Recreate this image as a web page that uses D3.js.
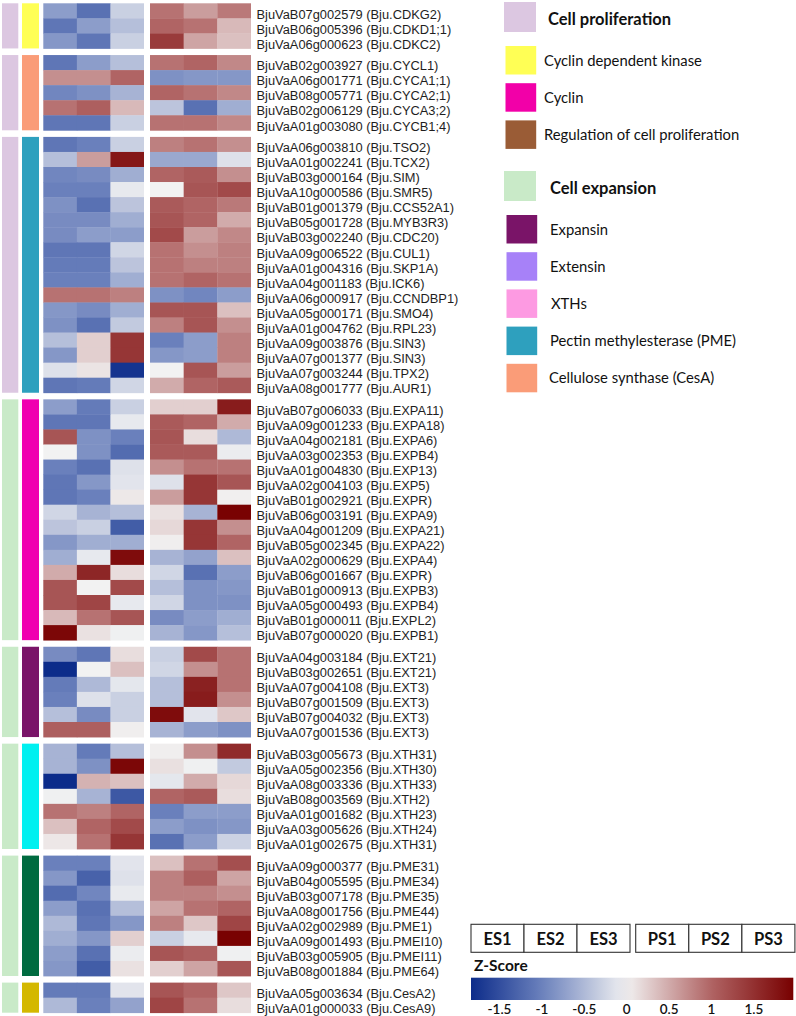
<!DOCTYPE html>
<html><head><meta charset="utf-8">
<script src="https://cdn.jsdelivr.net/npm/d3@7/dist/d3.min.js"></script>
<style>
html,body{margin:0;padding:0;background:#fff;}
svg{display:block;}
</style></head>
<body>
<svg id="chart" width="796" height="1016"></svg>
<script>
// ---------------- DATA ----------------
const samples = ["ES1","ES2","ES3","PS1","PS2","PS3"];
const groupSizes = [3,5,17,16,6,7,8,2];
const groupCategory = [0,0,0,1,1,1,1,1];
const categoryColors = ["#dcc7e1","#c9eac8"];
const groupBarColors = ["#ffff55","#fa9c78","#2ea0be","#f000b0","#7a1468","#00f0f0","#006b40","#d4b800"];

const geneLabels = [
"BjuVaB07g002579 (Bju.CDKG2)","BjuVaB06g005396 (Bju.CDKD1;1)","BjuVaA06g000623 (Bju.CDKC2)",
"BjuVaB02g003927 (Bju.CYCL1)","BjuVaA06g001771 (Bju.CYCA1;1)","BjuVaB08g005771 (Bju.CYCA2;1)","BjuVaB02g006129 (Bju.CYCA3;2)","BjuVaA01g003080 (Bju.CYCB1;4)",
"BjuVaA06g003810 (Bju.TSO2)","BjuVaA01g002241 (Bju.TCX2)","BjuVaB03g000164 (Bju.SIM)","BjuVaA10g000586 (Bju.SMR5)","BjuVaB01g001379 (Bju.CCS52A1)","BjuVaB05g001728 (Bju.MYB3R3)","BjuVaB03g002240 (Bju.CDC20)","BjuVaA09g006522 (Bju.CUL1)","BjuVaA01g004316 (Bju.SKP1A)","BjuVaA04g001183 (Bju.ICK6)","BjuVaA06g000917 (Bju.CCNDBP1)","BjuVaA05g000171 (Bju.SMO4)","BjuVaA01g004762 (Bju.RPL23)","BjuVaA09g003876 (Bju.SIN3)","BjuVaA07g001377 (Bju.SIN3)","BjuVaA07g003244 (Bju.TPX2)","BjuVaA08g001777 (Bju.AUR1)",
"BjuVaB07g006033 (Bju.EXPA11)","BjuVaA09g001233 (Bju.EXPA18)","BjuVaA04g002181 (Bju.EXPA6)","BjuVaA03g002353 (Bju.EXPB4)","BjuVaA01g004830 (Bju.EXP13)","BjuVaA02g004103 (Bju.EXP5)","BjuVaB01g002921 (Bju.EXPR)","BjuVaB06g003191 (Bju.EXPA9)","BjuVaA04g001209 (Bju.EXPA21)","BjuVaB05g002345 (Bju.EXPA22)","BjuVaA02g000629 (Bju.EXPA4)","BjuVaB06g001667 (Bju.EXPR)","BjuVaB01g000913 (Bju.EXPB3)","BjuVaA05g000493 (Bju.EXPB4)","BjuVaB01g000011 (Bju.EXPL2)","BjuVaB07g000020 (Bju.EXPB1)",
"BjuVaA04g003184 (Bju.EXT21)","BjuVaB03g002651 (Bju.EXT21)","BjuVaA07g004108 (Bju.EXT3)","BjuVaB07g001509 (Bju.EXT3)","BjuVaB07g004032 (Bju.EXT3)","BjuVaA07g001536 (Bju.EXT3)",
"BjuVaB03g005673 (Bju.XTH31)","BjuVaA05g002356 (Bju.XTH30)","BjuVaA08g003336 (Bju.XTH33)","BjuVaB08g003569 (Bju.XTH2)","BjuVaA01g001682 (Bju.XTH23)","BjuVaA03g005626 (Bju.XTH24)","BjuVaA01g002675 (Bju.XTH31)",
"BjuVaA09g000377 (Bju.PME31)","BjuVaB04g005595 (Bju.PME34)","BjuVaB03g007178 (Bju.PME35)","BjuVaA08g001756 (Bju.PME44)","BjuVaA02g002989 (Bju.PME1)","BjuVaA09g001493 (Bju.PMEI10)","BjuVaB03g005905 (Bju.PMEI11)","BjuVaB08g001884 (Bju.PME64)",
"BjuVaA05g003634 (Bju.CesA2)","BjuVaA01g000033 (Bju.CesA9)"
];

// z-scores per gene: ES1, ES2, ES3, PS1, PS2, PS3
const zValues = [
[-0.75,-1.15,-0.3,0.9,0.6,0.85],
[-1.1,-0.75,-0.45,1.0,0.9,0.4],
[-0.8,-1.1,-0.3,1.4,0.55,0.35],
[-1.1,-0.75,-0.45,0.9,1.0,0.75],
[0.7,0.7,1.0,-0.85,-0.8,-0.8],
[-0.95,-0.85,-0.55,1.0,0.9,0.75],
[0.9,1.05,0.4,-0.4,-1.15,-0.6],
[-1.1,-1.1,-0.3,0.9,0.9,0.75],
[-1.1,-1.0,-0.3,0.8,0.9,0.7],
[-0.45,0.6,1.75,-0.65,-0.65,-0.15],
[-0.95,-0.9,-0.6,1.0,1.1,0.7],
[-1.0,-1.0,-0.08,0.0,1.15,1.25],
[-0.85,-1.15,-0.4,1.1,1.0,0.85],
[-0.9,-0.9,-0.6,1.15,1.0,0.5],
[-0.9,-0.75,-0.75,1.25,0.6,0.75],
[-1.1,-1.1,-0.25,0.9,0.7,0.8],
[-1.05,-1.05,-0.4,0.9,0.8,0.8],
[-1.0,-1.0,-0.6,0.9,1.0,0.9],
[0.9,0.9,0.8,-0.85,-0.95,-0.75],
[-0.8,-0.9,-0.6,1.15,1.15,0.35],
[-0.85,-1.15,-0.35,0.8,1.15,0.7],
[-0.45,0.25,1.45,-1.0,-0.75,0.8],
[-0.8,0.25,1.45,-0.8,-0.75,0.8],
[-0.15,0.1,-1.75,0.0,1.15,0.6],
[-1.1,-1.05,-0.25,0.5,1.0,1.1],
[-0.75,-1.05,-0.3,0.25,0.25,1.7],
[-1.1,-1.1,-0.08,1.1,1.0,0.5],
[1.15,-0.85,-1.0,1.15,0.15,-0.5],
[0.0,-0.85,-1.2,1.1,1.1,-0.05],
[-1.0,-1.15,-0.15,0.7,0.9,0.9],
[-1.1,-0.8,-0.12,-0.15,1.45,1.15],
[-1.1,-1.0,0.07,0.6,1.45,0.02],
[-0.25,-0.55,-0.45,0.12,-0.55,1.95],
[-0.4,-0.3,-1.35,0.18,1.45,0.7],
[-0.8,-0.6,-0.6,0.03,1.45,1.0],
[-0.6,-0.08,1.85,-0.55,-0.7,0.35],
[0.5,1.6,0.15,-0.25,-1.15,-0.75],
[1.15,0.0,1.25,-0.45,-0.85,-0.8],
[1.15,1.3,-0.08,-0.25,-0.85,-0.85],
[0.4,0.9,1.15,-0.9,-0.75,-0.6],
[1.9,0.12,-0.02,-0.55,-0.8,-0.45],
[-0.9,-1.1,0.15,-0.3,1.25,0.9],
[-1.85,0.0,0.35,-0.25,0.7,0.9],
[-1.05,-0.5,-0.1,-0.45,1.65,0.9],
[-1.0,-0.15,-0.3,-0.45,1.7,0.7],
[-0.45,-0.9,-0.3,1.85,-0.12,0.3],
[1.05,1.05,0.03,-0.55,-0.75,-0.85],
[-0.55,-1.05,-0.45,0.03,0.7,1.55],
[-0.55,-0.85,1.9,0.13,-0.02,-0.35],
[-1.85,0.45,0.35,-0.1,0.5,0.18],
[-0.02,-0.55,-1.4,1.0,1.1,0.15],
[0.9,0.8,1.0,-1.0,-0.75,-0.75],
[0.35,1.0,1.25,-0.75,-0.85,-0.8],
[0.08,0.9,1.45,-1.15,-0.75,-0.28],
[-1.0,-1.0,-0.12,0.35,0.9,1.2],
[-0.8,-1.3,-0.15,0.8,1.05,0.55],
[-1.2,-0.95,-0.07,0.8,0.8,0.7],
[-0.75,-1.15,-0.45,0.55,0.9,1.0],
[-0.5,-1.1,-0.8,0.8,0.3,1.3],
[-0.6,-0.8,0.25,-0.3,-0.08,1.95],
[-0.75,-1.15,-0.05,1.15,1.05,-0.02],
[-0.8,-1.35,0.12,0.25,0.55,1.15],
[-1.05,-1.05,-0.12,1.15,1.0,0.3],
[-0.5,-1.0,-0.7,1.3,0.9,0.15]
];

const legendHeaders = ["Cell proliferation","Cell expansion"];
const legendHeaderColors = ["#dcc7e1","#c9eac8"];
const legendItems = [
  ["Cyclin dependent kinase","Cyclin","Regulation of cell proliferation"],
  ["Expansin","Extensin","XTHs","Pectin methylesterase (PME)","Cellulose synthase (CesA)"]
];
const legendItemColors = [
  ["#ffff55","#f200a8","#9a5c36"],
  ["#7a1468","#a781f8","#fd9ae2","#2ea0be","#fa9c78"]
];

const zTicks = [-1.5,-1,-0.5,0,0.5,1,1.5];
const zDomain = [-1.83,-1,0,1,1.97];
const zColors = ["#0c2c8a","#6a80bc","#f2f2f2","#b06464","#780000"];

// ---------------- DRAW ----------------
const svg = d3.select("#chart");
svg.append("rect").attr("width",796).attr("height",1016).attr("fill","#fff");

const color = d3.scaleLinear().domain(zDomain).range(zColors).clamp(true);

// layout
const top0 = 3.3, rowH = 15.05, gap = 6.6;
const rows = [];
let idx = 0;
groupSizes.forEach((n,g)=>{
  for(let k=0;k<n;k++){
    rows.push({i:idx, g:g, label:geneLabels[idx], vals:zValues[idx], y: top0 + idx*rowH + g*gap});
    idx++;
  }
});

const xES = d3.scaleBand().domain(samples.slice(0,3)).range([43.3,144]);
const xPS = d3.scaleBand().domain(samples.slice(3)).range([150,251]);
const xCell = s => samples.indexOf(s) < 3 ? xES(s) : xPS(s);

// group bars
const groups = groupSizes.map((n,g)=>{
  const first = rows.find(r=>r.g===g);
  return {g, y:first.y, h:n*rowH};
});
svg.append("g").selectAll("rect").data(groups).join("rect")
  .attr("x",2).attr("width",16.3)
  .attr("y",d=>d.y).attr("height",d=>d.h)
  .attr("fill",d=>categoryColors[groupCategory[d.g]]);
svg.append("g").selectAll("rect").data(groups).join("rect")
  .attr("x",22).attr("width",17)
  .attr("y",d=>d.y).attr("height",d=>d.h)
  .attr("fill",d=>groupBarColors[d.g]);

// heatmap cells
const cells = [];
rows.forEach(r=>samples.forEach((s,j)=>cells.push({r, s, v:r.vals[j]})));
svg.append("g").selectAll("rect").data(cells).join("rect")
  .attr("x",d=>xCell(d.s))
  .attr("y",d=>d.r.y)
  .attr("width",xES.bandwidth()+0.4)
  .attr("height",rowH+0.4)
  .attr("fill",d=>color(d.v));
// keep block edges crisp
svg.append("g").selectAll("rect").data(groups).join("rect")
  .attr("x",144).attr("width",6).attr("y",d=>d.y-1).attr("height",d=>d.h+2).attr("fill","#fff");
svg.append("g").selectAll("rect").data(groups).join("rect")
  .attr("x",251).attr("width",5).attr("y",d=>d.y-1).attr("height",d=>d.h+2).attr("fill","#fff");

// gene labels
svg.append("g").selectAll("text").data(rows).join("text")
  .attr("x",256.5).attr("y",d=>d.y+rowH+0.2)
  .attr("font-family","'Liberation Sans', Arial, sans-serif")
  .attr("font-size",12.85)
  .attr("fill","#1e1e1e")
  .text(d=>d.label);

// legend
const legFont = "Lato, 'Open Sans', sans-serif";
const lg = svg.append("g");
const blockTops = [2,171];
const headerX = [548,550];
const textX = [[544,544,544],[550,550,551,550,549]];
blockTops.forEach((t,b)=>{
  lg.append("rect").attr("x",504).attr("y",t).attr("width",32).attr("height",30).attr("fill",legendHeaderColors[b]);
  lg.append("text").attr("x",headerX[b]).attr("y",t+22.5).attr("font-family",legFont).attr("font-weight","bold")
    .attr("font-size",16.5).attr("fill","#111").text(legendHeaders[b]);
  legendItems[b].forEach((name,k)=>{
    const y = t + 44 + k*37.2;
    lg.append("rect").attr("x",b===0?505.5:506.5).attr("y",y).attr("width",30.7).attr("height",28.5).attr("fill",legendItemColors[b][k]);
    lg.append("text").attr("x",textX[b][k]).attr("y",y+19.5).attr("font-family",legFont)
      .attr("font-size",14.8).attr("fill","#111").text(name);
  });
});

// sample boxes
const bES = d3.scaleBand().domain(samples.slice(0,3)).range([471,630]);
const bPS = d3.scaleBand().domain(samples.slice(3)).range([635.7,795]);
const bx = s => samples.indexOf(s) < 3 ? bES(s) : bPS(s);
const sb = svg.append("g");
sb.selectAll("rect").data(samples).join("rect")
  .attr("x",d=>bx(d)).attr("y",924.3).attr("width",bES.bandwidth()).attr("height",28)
  .attr("fill","#fff").attr("stroke","#333").attr("stroke-width",1.1);
sb.selectAll("text").data(samples).join("text")
  .attr("x",d=>bx(d)+bES.bandwidth()/2).attr("y",945)
  .attr("text-anchor","middle").attr("font-family",legFont).attr("font-weight","bold")
  .attr("font-size",16.5).attr("fill","#111").text(d=>d);

// colour bar
const zScale = d3.scaleLinear().domain([zDomain[0], zDomain[zDomain.length-1]]).range([471,793.3]);
const defs = svg.append("defs");
const grad = defs.append("linearGradient").attr("id","zgrad").attr("x1","0%").attr("x2","100%");
d3.range(0,1.0001,0.05).forEach(t=>{
  const v = zDomain[0] + t*(zDomain[zDomain.length-1]-zDomain[0]);
  grad.append("stop").attr("offset",(t*100)+"%").attr("stop-color",color(v));
});
svg.append("rect").attr("x",471).attr("y",977.7).attr("width",322.3).attr("height",22.3).attr("fill","url(#zgrad)");
svg.append("text").attr("x",474).attr("y",970.5).attr("font-family",legFont).attr("font-weight","bold")
  .attr("font-size",15.5).attr("fill","#111").text("Z-Score");

const axis = d3.axisBottom(zScale).tickValues(zTicks).tickSize(0).tickPadding(4).tickFormat(d=>String(d));
const ax = svg.append("g").attr("transform","translate(0,1000)").call(axis);
ax.select(".domain").remove();
ax.selectAll("text").attr("font-family",legFont).attr("font-size",13.5).attr("font-weight",600).attr("fill","#111");
</script>
</body></html>
